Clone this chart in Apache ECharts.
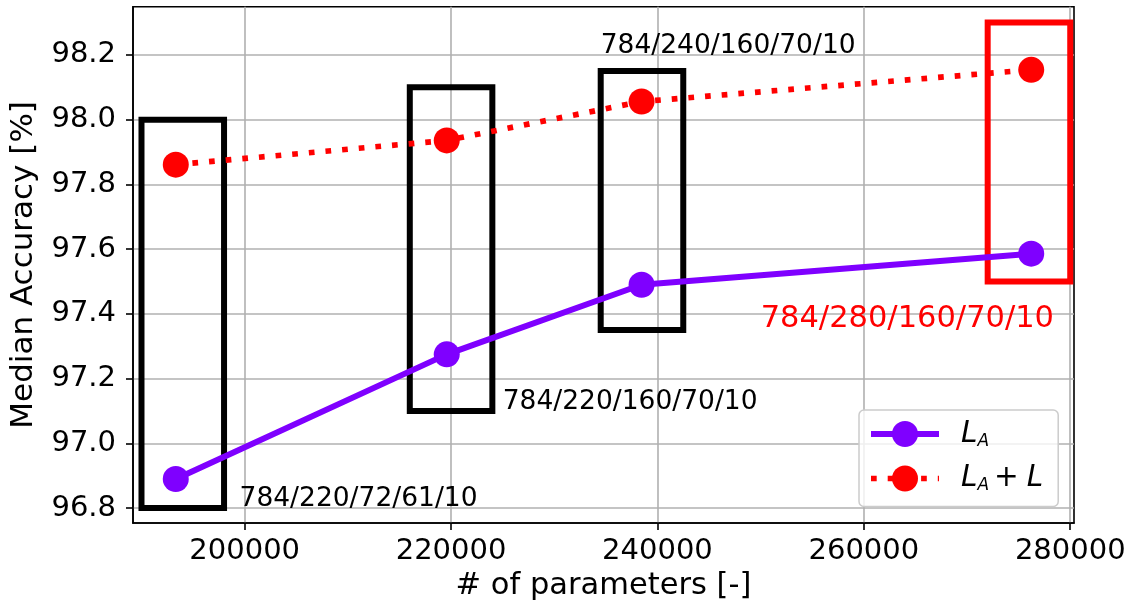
<!DOCTYPE html>
<html><head><meta charset="utf-8">
<script src="https://cdn.jsdelivr.net/npm/echarts@6/dist/echarts.min.js"></script>
<style>html,body{margin:0;padding:0;background:#fff}#c{width:1144px;height:607px}</style>
</head><body><div id="c"></div>
<script>
// ---- data ----
const params = [193322, 219580, 238460, 276220];
const accLA = [96.89, 97.275, 97.49, 97.586];
const accLAL = [97.861, 97.936, 98.056, 98.154];
const xTicks = [200000, 220000, 240000, 260000, 280000];
const yTicks = [96.8, 97.0, 97.2, 97.4, 97.6, 97.8, 98.0, 98.2];
const xRange = [189177, 280365];
const yRange = [96.754, 98.349];
const boxX0 = [190000, 216000, 234500, 272000];
const boxX1 = [198000, 224000, 242500, 280000];
const boxY0 = [96.8, 97.1, 97.35, 97.5];
const boxY1 = [98.0, 98.1, 98.15, 98.3];
const boxHighlight = [0, 0, 0, 1];
const annText = ['784/220/72/61/10', '784/220/160/70/10', '784/240/160/70/10', '784/280/160/70/10'];
const annX = [199500, 225000, 234500, 250000];
const annY = [96.8, 97.1, 98.2, 97.35];
const annHighlight = [0, 0, 0, 1];
const seriesNames = ['L_A', 'L_A + L'];

// ---- styles ----
const FONT = "'DejaVu Sans', sans-serif";
const PURPLE = '#7f00ff';
const RED = '#ff0000';
const solidLine = {color: PURPLE, width: 6};
const dottedLine = {color: RED, width: 5.7, type: [5.7, 11], cap: 'butt'};

const chart = echarts.init(document.getElementById('c'), null, {renderer: 'canvas'});

const boxData = boxX0.map((x0, i) => [x0, boxX1[i], boxY0[i], boxY1[i], boxHighlight[i]]);
const annData = annX.map((x, i) => [x, annY[i], i]);

const option = {
  animation: false,
  backgroundColor: '#fff',
  grid: {left: 131.7, right: 70, top: 6.7, bottom: 82.7, show: true, borderColor: '#000', borderWidth: 1.6, backgroundColor: 'transparent'},
  xAxis: {
    type: 'value', min: xRange[0], max: xRange[1],
    name: '# of parameters [-]', nameLocation: 'middle', nameGap: 48,
    nameTextStyle: {fontFamily: FONT, fontSize: 30.5, color: '#000'},
    axisLine: {show: true, onZero: false, lineStyle: {color: '#000', width: 1.6}},
    axisTick: {show: true, length: 7, lineStyle: {color: '#000', width: 1.6}, customValues: xTicks},
    axisLabel: {customValues: xTicks, formatter: v => String(Math.round(v)), fontFamily: FONT, fontSize: 29, color: '#000', margin: 14},
    splitLine: {show: true, lineStyle: {color: '#b0b0b0', width: 1.6}}
  },
  yAxis: {
    type: 'value', min: yRange[0], max: yRange[1],
    name: 'Median Accuracy [%]', nameLocation: 'middle', nameGap: 94,
    nameTextStyle: {fontFamily: FONT, fontSize: 31, color: '#000'},
    axisLine: {show: true, onZero: false, lineStyle: {color: '#000', width: 1.6}},
    axisTick: {show: true, length: 7, lineStyle: {color: '#000', width: 1.6}, customValues: yTicks},
    axisLabel: {customValues: yTicks, formatter: v => v.toFixed(1), fontFamily: FONT, fontSize: 29, color: '#000', margin: 17},
    splitLine: {show: true, lineStyle: {color: '#b0b0b0', width: 1.6}}
  },
  legend: {
    orient: 'vertical', left: 859, top: 410,
    padding: [8, 15, 12, 9],
    itemWidth: 68, itemHeight: 32.5, itemGap: 12.5,
    borderColor: '#cccccc', borderWidth: 1.5, borderRadius: 5,
    backgroundColor: 'rgba(255,255,255,0.8)',
    data: [
      {name: seriesNames[0], lineStyle: solidLine},
      {name: seriesNames[1], lineStyle: dottedLine}
    ],
    selectedMode: false,
    formatter: function (name) {
      return name === seriesNames[0] ? '{sp|}{i|L}{s|A}' : '{sp|}{i|L}{s|A}{n|+}{i|L}';
    },
    textStyle: {
      fontFamily: FONT, fontSize: 29.5, color: '#000', lineHeight: 32,
      rich: {
        sp: {width: 17},
        i: {fontFamily: FONT, fontStyle: 'italic', fontSize: 29.5, lineHeight: 32, color: '#000'},
        s: {fontFamily: FONT, fontStyle: 'italic', fontSize: 17, lineHeight: 14, verticalAlign: 'bottom', color: '#000'},
        n: {fontFamily: FONT, fontSize: 29.5, lineHeight: 32, color: '#000', padding: [0, 8, 0, 5]}
      }
    }
  },
  series: [
    {
      type: 'custom', name: 'boxes', silent: true, z: 2,
      data: boxData,
      encode: {x: [0, 1], y: [2, 3]},
      renderItem: function (p, api) {
        const a = api.coord([api.value(0), api.value(3)]);
        const b = api.coord([api.value(1), api.value(2)]);
        return {
          type: 'rect',
          shape: {x: a[0], y: a[1], width: b[0] - a[0], height: b[1] - a[1]},
          style: {fill: 'none', stroke: api.value(4) ? RED : '#000', lineWidth: 6}
        };
      }
    },
    {
      type: 'custom', name: 'annotations', silent: true, z: 3,
      data: annData,
      encode: {x: 0, y: 1},
      renderItem: function (p, api) {
        const pt = api.coord([api.value(0), api.value(1)]);
        const i = api.value(2);
        const fs = annHighlight[i] ? 30.5 : 26.5;
        return {
          type: 'text',
          x: pt[0], y: pt[1] - 0.346 * fs,
          style: {text: annText[i], fontFamily: FONT, fontSize: fs, lineHeight: fs, fill: annHighlight[i] ? RED : '#000', align: 'left', verticalAlign: 'middle'}
        };
      }
    },
    {
      name: seriesNames[0], type: 'line', z: 5,
      data: params.map((x, i) => [x, accLA[i]]),
      symbol: 'circle', symbolSize: 26,
      itemStyle: {color: PURPLE},
      lineStyle: solidLine
    },
    {
      name: seriesNames[1], type: 'line', z: 5,
      data: params.map((x, i) => [x, accLAL[i]]),
      symbol: 'circle', symbolSize: 26,
      itemStyle: {color: RED},
      lineStyle: dottedLine
    }
  ]
};
chart.setOption(option);
</script>
</body></html>
